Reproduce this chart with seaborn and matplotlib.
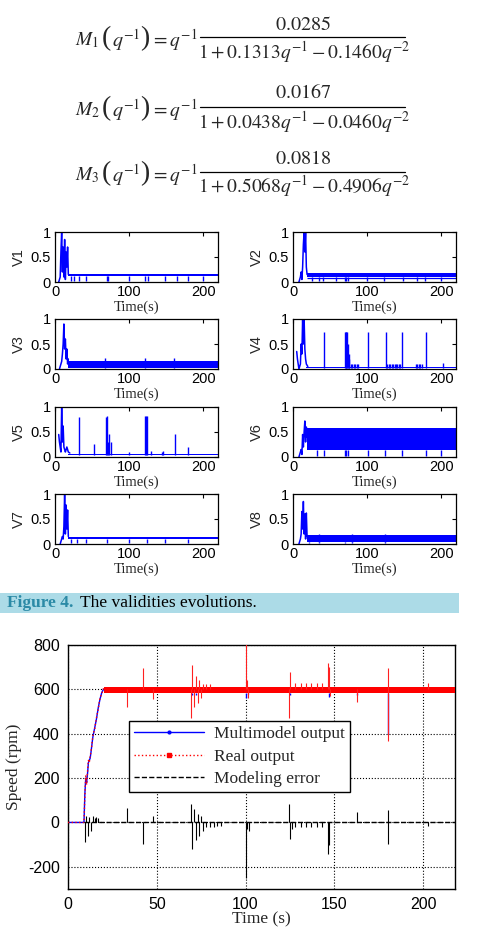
import numpy as np
import pandas as pd
import matplotlib
matplotlib.use("Agg")
import matplotlib.pyplot as plt
from matplotlib.lines import Line2D
from matplotlib.patches import Rectangle
import seaborn as sns

sns.set_theme(style="white")
plt.rcParams['font.family'] = ['Liberation Sans', 'DejaVu Sans']
plt.rcParams['mathtext.fontset'] = 'stix'
plt.rcParams['axes.unicode_minus'] = False

W, H = 493, 931

# ---------------- Data ----------------
model_names = ["M_1", "M_2", "M_3"]
numerators = ["0.0285", "0.0167", "0.0818"]
den_a1 = ["0.1313", "0.0438", "0.5068"]
den_a2 = ["0.1460", "0.0460", "0.4906"]

v_names = ["V1", "V2", "V3", "V4", "V5", "V6", "V7", "V8"]
v_ticks = [0, 0.5, 1]
t_ticks = [0, 100, 200]

# transients (time, value) for each validity
v_trans_t = [
    [5, 7, 8, 9, 10, 11, 12, 13, 14, 15, 16, 17, 18],
    [8, 10, 11, 12, 13, 14, 15, 16, 17, 18, 19],
    [6, 8, 9, 10, 11, 12, 13, 14, 15, 16, 17, 18],
    [5, 6, 8, 10, 11, 12, 13, 14, 15, 16, 17, 18, 20],
    [5, 6, 7, 8, 9, 10, 11, 12, 13, 14, 16, 18, 20],
    [8, 10, 11, 12, 13, 14, 15, 16, 17, 18, 19],
    [7, 9, 10, 11, 12, 13, 14, 15, 16, 17, 18],
    [8, 10, 11, 12, 13, 14, 15, 16, 17, 18, 19],
]
v_trans_v = [
    [0.0, 0.1, 0.6, 1.0, 0.2, 0.7, 0.1, 0.85, 0.05, 0.6, 0.3, 0.7, 0.15],
    [0.0, 0.1, 0.2, 0.05, 0.3, 0.75, 1.0, 0.6, 1.0, 0.3, 0.15],
    [0.0, 0.1, 0.15, 0.3, 0.5, 0.9, 0.4, 0.6, 0.2, 0.4, 0.1, 0.2],
    [0.35, 0.2, 0.0, 0.1, 0.5, 0.3, 1.0, 0.5, 1.0, 0.4, 0.2, 0.1, 0.05],
    [0.45, 0.3, 0.2, 0.1, 1.0, 0.3, 0.62, 0.2, 0.15, 0.1, 0.2, 0.1, 0.08],
    [0.0, 0.1, 0.15, 0.05, 0.45, 0.2, 0.5, 0.72, 0.3, 0.6, 0.4],
    [0.0, 0.1, 0.15, 0.1, 0.35, 1.0, 0.2, 0.78, 0.3, 0.68, 0.15],
    [0.0, 0.1, 0.2, 0.65, 0.3, 0.85, 0.2, 0.6, 0.1, 0.62, 0.15],
]
# steady band (start time, low, high)
v_band = [
    (18, 0.13, 0.16),
    (19, 0.11, 0.19),
    (18, 0.02, 0.17),
    (18, 0.02, 0.05),
    (18, 0.03, 0.06),
    (19, 0.13, 0.58),
    (18, 0.10, 0.15),
    (19, 0.05, 0.18),
]
# dips below band (times)
v_dips = [
    [21, 25, 32, 42, 70, 72, 100, 122, 125, 148, 165, 180, 200],
    [25, 35, 40, 58, 70, 72, 74, 100, 123, 148, 168, 178, 200],
    [30, 68, 122, 160],
    [],
    [],
    [33, 42, 70, 72, 74, 101, 124, 147, 180, 200],
    [22, 30, 42, 70, 100, 124, 148, 180],
    [22, 35, 70, 80, 124],
]
# spikes above band (time, height)
v_spike_t = [
    [], [], [68, 122, 160],
    [42, 70, 71, 72, 73, 74, 75, 76, 78, 80, 82, 84, 86, 88, 101, 125, 127, 129, 131, 133, 135, 137, 139, 141, 143, 145, 147, 166, 168, 170, 172, 174, 180, 203],
    [33, 52, 69, 70, 72, 73, 75, 100, 122, 123, 124, 130, 145, 146, 162, 180],
    [], [], [35, 80, 124],
]
v_spike_h = [
    [], [], [0.22, 0.22, 0.22],
    [0.75, 0.75, 0.75, 0.75, 0.75, 0.5, 0.3, 0.2, 0.1, 0.1, 0.1, 0.1, 0.1, 0.1, 0.75, 0.75, 0.1, 0.1, 0.1, 0.1, 0.1, 0.1, 0.1, 0.1, 0.1, 0.1, 0.75, 0.1, 0.1, 0.1, 0.1, 0.1, 0.75, 0.12],
    [0.8, 0.25, 0.8, 0.82, 0.3, 0.45, 0.3, 0.1, 0.82, 0.82, 0.82, 0.12, 0.1, 0.12, 0.45, 0.2],
    [], [], [0.2, 0.2, 0.2],
]

# speed chart
speed_xticks = [0, 50, 100, 150, 200]
speed_yticks = [-200, 0, 200, 400, 600, 800]
ramp_t = [0, 9, 9.5, 10, 10.5, 11, 11.5, 12, 12.5, 13, 14, 15, 16, 17, 18, 19, 20]
ramp_real = [0, 0, 120, 210, 170, 230, 280, 270, 300, 320, 390, 420, 470, 510, 560, 580, 605]
ramp_model = [0, 0, 130, 200, 180, 220, 270, 280, 290, 320, 385, 425, 465, 515, 555, 585, 600]
steady_lo, steady_hi = 585, 612
real_spike_t = [33, 42, 48, 69.5, 70, 71, 72, 73, 74, 75, 76, 78, 80, 100.5, 101, 101.5, 124.5, 125, 128, 131, 134, 137, 140, 143, 146.5, 147, 147.5, 163, 180, 180.5, 203]
real_spike_v = [520, 695, 555, 470, 710, 520, 660, 540, 640, 560, 625, 625, 625, 830, 640, 560, 470, 680, 630, 630, 630, 630, 630, 630, 720, 700, 570, 545, 365, 695, 630]
model_spike_t = [70, 72, 100.5, 101.5, 125, 147, 163, 180]
model_spike_v = [575, 575, 560, 580, 575, 565, 575, 400]
err_spike_t = [9.5, 10, 11, 12, 13, 14, 15, 16, 17, 33, 42, 48, 69.5, 70, 71, 72, 73, 74, 75, 76, 78, 80, 82, 84, 86, 100.5, 101, 102, 124.5, 125, 126, 128, 131, 134, 137, 140, 143, 146.5, 147, 163, 180, 180.5, 203]
err_spike_v = [-90, 30, -60, 25, -40, 30, 20, 25, 20, 65, -95, 30, 85, -120, 60, -80, 40, -60, 30, -40, -20, -20, -20, -15, -15, -250, -30, -40, 85, -75, -30, -20, -20, -20, -20, -20, -20, -140, -100, 45, 55, -95, -15]

# ---------------- Figure ----------------
fig = plt.figure(figsize=(W / 100, H / 100), dpi=100)
fig.patch.set_facecolor("white")


def ax_px(l, t, r, b):
    return fig.add_axes([l / W, 1 - b / H, (r - l) / W, (b - t) / H])


def ftext(x, y, s, **kw):
    fig.text(x / W, 1 - y / H, s, **kw)


# Equations
eq_rows = [(37, 25, 52), (107, 93, 122), (172, 158, 186)]
FS = 14.5
for i, (ly, ny, dy) in enumerate(eq_rows):
    yc = ly + 3
    ftext(75, yc, r"$%s$" % model_names[i], ha="left", va="center", fontsize=14)
    ftext(106, yc - 1, "(", ha="center", va="center", fontsize=20,
          family="Liberation Serif")
    ftext(126, yc, r"$q^{-1}$", ha="center", va="center", fontsize=FS)
    ftext(145, yc - 1, ")", ha="center", va="center", fontsize=20,
          family="Liberation Serif")
    ftext(151, yc, r"$=q^{-1}$", ha="left", va="center", fontsize=14)
    ftext(303, ny, r"$\mathrm{%s}$" % numerators[i], ha="center", va="center", fontsize=FS)
    ftext(304, dy, r"$1+%s q^{-1}-%s q^{-2}$" % (den_a1[i], den_a2[i]),
          ha="center", va="center", fontsize=14)
    fig.add_artist(Line2D([200 / W, 405 / W], [1 - ly / H, 1 - ly / H], color="black", lw=0.9))

# Validity panels
col_l = [55, 293]
row_t = [232, 319, 407, 494]
for k in range(8):
    r, c = divmod(k, 2)
    l = col_l[c]
    t = row_t[r]
    ax = ax_px(l, t, l + 163, t + 50)
    df = pd.DataFrame({"t": v_trans_t[k], "v": v_trans_v[k]})
    sns.lineplot(data=df, x="t", y="v", ax=ax, color="blue", lw=1.1,
                 estimator=None, sort=False)
    t0, lo, hi = v_band[k]
    ax.fill_between([t0, 220], [lo, lo], [hi, hi], color="blue", lw=0)
    if k == 1:
        ax.hlines(0.08, t0, 220, color="blue", lw=0.9)
    if v_dips[k]:
        ax.vlines(v_dips[k], 0.02, lo, color="blue", lw=1.0)
    if v_spike_t[k]:
        ax.vlines(v_spike_t[k], lo, v_spike_h[k], color="blue", lw=1.0)
    ax.set_xlim(0, 220)
    ax.set_ylim(0, 1)
    ax.set_xticks(t_ticks)
    ax.set_yticks(v_ticks)
    ax.set_yticklabels(["0", "0.5", "1"])
    ax.tick_params(direction="in", length=3, width=0.8, labelsize=10.5,
                   top=True, right=True, pad=2, colors="black")
    ax.tick_params(axis="y", pad=3)
    for s in ax.spines.values():
        s.set_color("black")
        s.set_linewidth(0.9)
    ax.set_xlabel("Time(s)", fontsize=10.5, family="Liberation Serif", labelpad=1)
    ax.set_ylabel(v_names[k], fontsize=10.5, labelpad=3)

# Caption bar
fig.add_artist(Rectangle((0, 1 - 613 / H), 459 / W, 20 / H, transform=fig.transFigure,
                         facecolor="#acdbe7", edgecolor="none"))
ftext(7, 603, "Figure 4.", ha="left", va="center", fontsize=12.5,
      family="Liberation Serif", weight="bold", color="#2b8aa6")
ftext(80, 603, "The validities evolutions.", ha="left", va="center", fontsize=12.5,
      family="Liberation Serif", color="black")

# Speed chart
ax = ax_px(68, 645, 455, 889)
ax.fill_between([20, 218], [steady_lo, steady_lo], [steady_hi, steady_hi],
                color="red", lw=0, zorder=3)
sns.lineplot(x=ramp_t, y=ramp_model, ax=ax, color="blue", lw=1.0,
             estimator=None, sort=False, zorder=2)
ax.vlines(model_spike_t, steady_lo, model_spike_v, color="blue", lw=1.0, zorder=2)
sns.lineplot(x=ramp_t, y=ramp_real, ax=ax, color="red", lw=1.0, linestyle=":",
             estimator=None, sort=False, zorder=4)
ax.vlines(real_spike_t, 600, real_spike_v, color="#ff2020", lw=0.8, zorder=4)
ax.hlines(0, 9, 218, color="black", lw=1.0, linestyles="--", zorder=5)
ax.vlines(err_spike_t, 0, err_spike_v, color="black", lw=0.8, zorder=5)
ax.set_xlim(0, 218)
ax.set_ylim(-300, 800)
ax.set_xticks(speed_xticks)
ax.set_yticks(speed_yticks)
ax.grid(True, color="black", linestyle=":", lw=0.8)
ax.set_axisbelow(True)
ax.tick_params(direction="in", length=0, labelsize=11.5, pad=6, colors="black")
for s in ax.spines.values():
    s.set_color("black")
    s.set_linewidth(1.0)
ax.set_xlabel("Time (s)", fontsize=12.5, family="Liberation Serif", labelpad=-1)
ax.set_ylabel("Speed (rpm)", fontsize=12.5, family="Liberation Serif", labelpad=4)

handles = [
    Line2D([], [], color="blue", lw=1.0, marker=".", markersize=4, markevery=[1]),
    Line2D([], [], color="red", lw=1.0, linestyle=":", marker="s", markersize=2.5, markevery=[1]),
    Line2D([], [], color="black", lw=1.0, linestyle="--"),
]
for h in handles[:2]:
    h.set_data([0, 0.5, 1], [0, 0, 0])
leg = ax.legend(handles, ["Multimodel output", "Real output", "Modeling error"],
                loc="upper left", bbox_to_anchor=((129 - 68) / 387, (889 - 721) / 244),
                prop={"family": "Liberation Serif", "size": 12.5}, frameon=True,
                fancybox=False, edgecolor="black", framealpha=1, handlelength=4,
                borderpad=0.3, labelspacing=0.35, handletextpad=0.6, borderaxespad=0)
leg.get_frame().set_linewidth(1.0)

fig.savefig("out.png", dpi=100)
